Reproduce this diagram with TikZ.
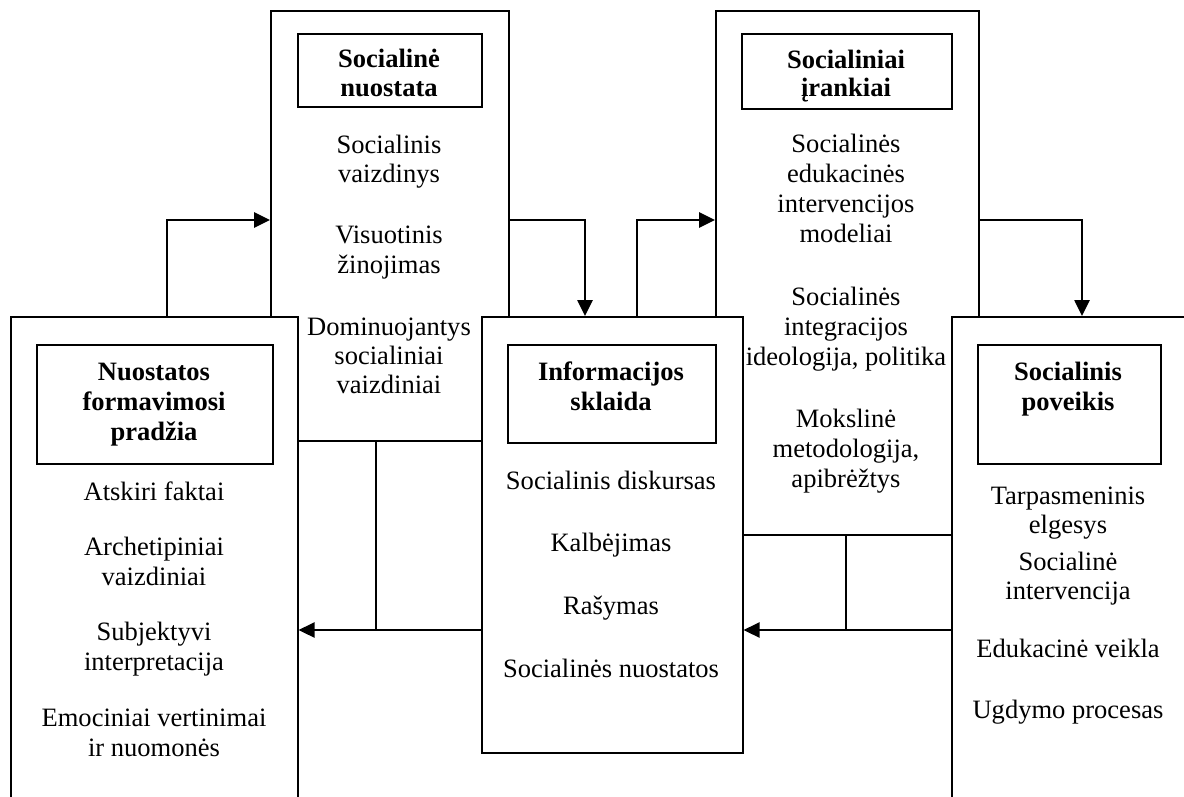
\documentclass[tikz,border=0pt]{standalone}
\usepackage{fontspec}
\setmainfont{Liberation Serif}
\usetikzlibrary{arrows.meta,calc}
\newcommand\mybox[6][box]{\node[#1, minimum width={(#5-#3)*0.75pt}, minimum height={(#6-#4)*0.75pt}] (#2) at (#3,#4) {};}
\begin{document}
\begin{tikzpicture}[x=0.75pt,y=-0.75pt,
  box/.style={draw, line width=1.2pt, fill=white, rectangle, inner sep=0pt, anchor=north west},
  tbox/.style={box},
  txt/.style={anchor=base, inner sep=0pt, font=\fontsize{19.9}{23}\selectfont},
  ttl/.style={anchor=base, inner sep=0pt, font=\fontsize{19.9}{23}\selectfont\bfseries},
  arr/.style={line width=1.2pt, -{Triangle[length=12pt,width=11.5pt]}},
  con/.style={line width=1.2pt}]
\clip (0,0) rectangle (1184,796);
% back boxes
\mybox{TL}{270}{10}{508}{440}
\mybox{TR}{715}{10}{978}{534}
% front boxes
\mybox{L}{10}{316}{297}{820}
\mybox{M}{481}{316}{742}{752}
\mybox{R}{951}{316}{1210}{820}
% title boxes
\mybox[tbox]{Lt}{36}{344}{272}{463}
\mybox[tbox]{TLt}{297}{33}{481}{106}
\mybox[tbox]{Mt}{507}{344}{715}{442}
\mybox[tbox]{TRt}{741}{33}{951}{108}
\mybox[tbox]{Rt}{977}{344}{1160}{463}
% titles
\foreach \t/\y [count=\i] in {{Nuostatos}/380,{formavimosi}/410,{pradžia}/440}
  \node[ttl] (lt\i) at (154,\y) {\t};
\foreach \t/\y [count=\i] in {{Socialinė}/67,{nuostata}/96}
  \node[ttl] (tlt\i) at (389,\y) {\t};
\foreach \t/\y [count=\i] in {{Informacijos}/380,{sklaida}/410}
  \node[ttl] (mt\i) at (611,\y) {\t};
\foreach \t/\y [count=\i] in {{Socialiniai}/68,{įrankiai}/96}
  \node[ttl] (trt\i) at (846,\y) {\t};
\foreach \t/\y [count=\i] in {{Socialinis}/380,{poveikis}/410}
  \node[ttl] (rt\i) at (1068,\y) {\t};
% body texts
\foreach \t/\y [count=\i] in {{Atskiri faktai}/500,{Archetipiniai}/555,{vaizdiniai}/585,{Subjektyvi}/640,{interpretacija}/670,{Emociniai vertinimai}/726,{ir nuomonės}/756}
  \node[txt] (l\i) at (154,\y) {\t};
\foreach \t/\y [count=\i] in {{Socialinis}/153,{vaizdinys}/182,{Visuotinis}/243,{žinojimas}/273,{Dominuojantys}/335,{socialiniai}/364,{vaizdiniai}/393}
  \node[txt] (tl\i) at (389,\y) {\t};
\foreach \t/\y [count=\i] in {{Socialinis diskursas}/489,{Kalbėjimas}/551,{Rašymas}/614,{Socialinės nuostatos}/677}
  \node[txt] (m\i) at (611,\y) {\t};
\foreach \t/\y [count=\i] in {{Socialinės}/152,{edukacinės}/182,{intervencijos}/212,{modeliai}/242,{Socialinės}/305,{integracijos}/335,{ideologija, politika}/365,{Mokslinė}/427,{metodologija,}/457,{apibrėžtys}/487}
  \node[txt] (tr\i) at (846,\y) {\t};
\foreach \t/\y [count=\i] in {{Tarpasmeninis}/504,{elgesys}/533,{Socialinė}/570,{intervencija}/599,{Edukacinė veikla}/657,{Ugdymo procesas}/718}
  \node[txt] (r\i) at (1068,\y) {\t};
% connectors
\coordinate (j1) at (376,630);
\coordinate (j2) at (846,630);
\draw[arr] (L.north -| 167,0) |- (TL.west |- 0,220);
\draw[arr] (TL.east |- 0,220) -| (M.north -| 585,0);
\draw[arr] (M.north -| 637,0) |- (TR.west |- 0,220);
\draw[arr] (TR.east |- 0,220) -| (R.north -| 1082,0);
\draw[con] (TL.south -| j1) -- (j1);
\draw[arr] (M.west |- j1) -- (L.east |- j1);
\draw[con] (TR.south -| j2) -- (j2);
\draw[arr] (R.west |- j2) -- (M.east |- j2);
\end{tikzpicture}
\end{document}
